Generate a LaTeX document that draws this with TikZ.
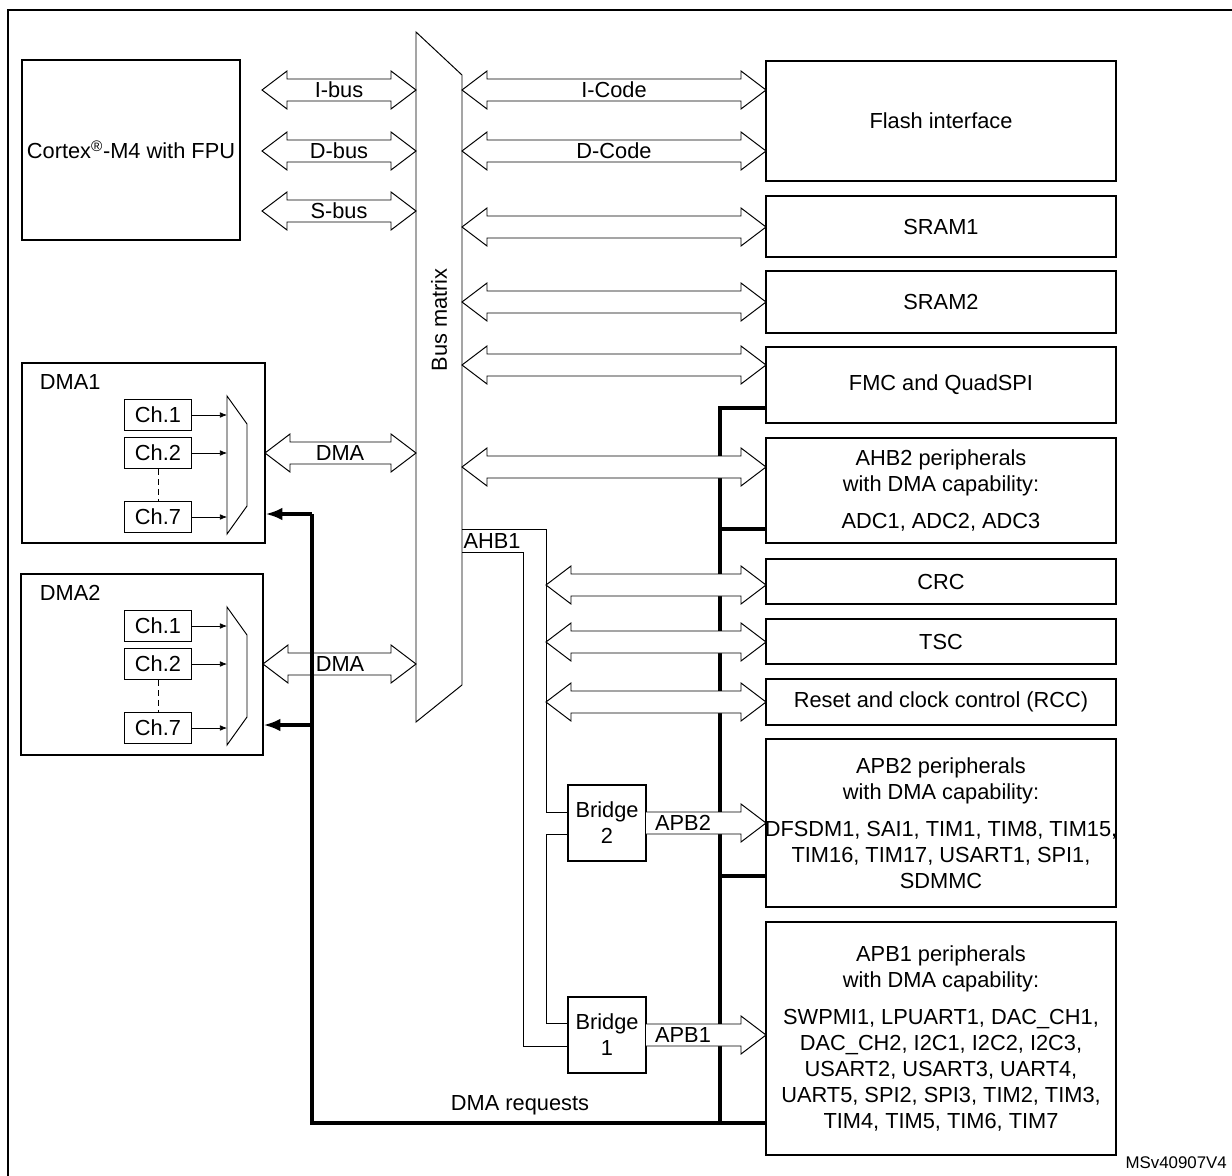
\documentclass[tikz,border=0pt]{standalone}
\usepackage{fontspec}
\setmainfont{Liberation Sans}
\usetikzlibrary{fit,arrows.meta}

% double headed bus arrow: x1, x2, y
\newcommand{\dblbus}[3]{%
  \draw[fill=white] (#1,#3) -- (#1+25,#3-19) -- (#1+25,#3-11) -- (#2-25,#3-11)
    -- (#2-25,#3-19) -- (#2,#3) -- (#2-25,#3+19) -- (#2-25,#3+11)
    -- (#1+25,#3+11) -- (#1+25,#3+19) -- cycle;}
% single headed bus arrow: x1, x2, y
\newcommand{\onebus}[3]{%
  \draw[fill=white] (#1,#3-11) -- (#2-25,#3-11) -- (#2-25,#3-19) -- (#2,#3)
    -- (#2-25,#3+19) -- (#2-25,#3+11) -- (#1,#3+11);}

\tikzset{
  blk/.style={draw, inner sep=0pt, line width=0.8pt},
  txt/.style={font=\fontsize{15.5}{18.5}\selectfont, align=center, inner sep=1pt},
  chan/.style={draw, line width=0.9pt, minimum width=1.68cm, minimum height=0.78cm, inner sep=0pt,
    font=\fontsize{15.5}{18}\selectfont},
  req/.style={line width=2.2pt},
}

\begin{document}
\begin{tikzpicture}[x=0.025cm,y=-0.025cm,line width=0.7pt]
\useasboundingbox (0,0) rectangle (1232,1176);
\draw[line width=1.4pt] (8,1190) -- (8,10) -- (1250,10);

% masters
\node[blk, fit={(22,60)(240,240)}] (cpu) {};
\node[txt] (cputxt) at (cpu.center) {Cortex\textsuperscript{\textregistered}-M4 with FPU};

\node[blk, fit={(22,363)(265,543)}] (dma1) {};
\node[txt, anchor=west] (dma1txt) at (38,382) {DMA1};
\node[blk, fit={(21,574)(263,755)}] (dma2) {};
\node[txt, anchor=west] (dma2txt) at (38,593) {DMA2};

\foreach \d/\y in {a/0,b/211}{
  \node[chan] (\d c1) at (158,415+\y) {Ch.1};
  \node[chan] (\d c2) at (158,453+\y) {Ch.2};
  \node[chan] (\d c7) at (158,517+\y) {Ch.7};
  \draw[dashed, dash pattern=on 4pt off 3pt] (\d c2.south) -- (\d c7.north);
  \draw (227,396+\y) -- (247,424+\y) -- (247,506+\y) -- (227,534+\y) -- cycle;
  \coordinate (\d m) at (227,465+\y);
  \foreach \c in {c1,c2,c7}
    \draw[-{Latex[length=5pt,width=4pt]}, line width=0.5pt] (\d\c.east) -- (\d m |- \d\c.east);
}

% bus matrix
\draw (416,32) -- (462,75) -- (462,685) -- (416,722) -- cycle;
\node[txt, rotate=90] (bm) at (439,320) {Bus matrix};

% slaves
\node[blk, fit={(766,61)(1116,181)}] (flash) {};
\node[txt] at (flash.center) {Flash interface};
\node[blk, fit={(766,196)(1116,257)}] (sram1) {};
\node[txt] at (sram1.center) {SRAM1};
\node[blk, fit={(766,271)(1116,333)}] (sram2) {};
\node[txt] at (sram2.center) {SRAM2};
\node[blk, fit={(766,347)(1116,423)}] (fmc) {};
\node[txt] at (fmc.center) {FMC and QuadSPI};
\node[blk, fit={(766,438)(1116,543)}] (ahb2) {};
\node[txt] at (ahb2.center) {AHB2 peripherals\\with DMA capability:\\[0.5em]ADC1, ADC2, ADC3};
\node[blk, fit={(766,559)(1116,604)}] (crc) {};
\node[txt] at (crc.center) {CRC};
\node[blk, fit={(766,619)(1116,664)}] (tsc) {};
\node[txt] at (tsc.center) {TSC};
\node[blk, fit={(766,679)(1116,725)}] (rcc) {};
\node[txt] at (rcc.center) {Reset and clock control (RCC)};
\node[blk, fit={(766,739)(1116,907)}] (apb2) {};
\node[txt] at (apb2.center) {APB2 peripherals\\with DMA capability:\\[0.5em]DFSDM1, SAI1, TIM1, TIM8, TIM15,\\TIM16, TIM17, USART1, SPI1,\\SDMMC};
\node[blk, fit={(766,922)(1116,1155)}] (apb1) {};
\node[txt] at (apb1.center) {APB1 peripherals\\with DMA capability:\\[0.5em]SWPMI1, LPUART1, DAC\_CH1,\\DAC\_CH2, I2C1, I2C2, I2C3,\\USART2, USART3, UART4,\\UART5, SPI2, SPI3, TIM2, TIM3,\\TIM4, TIM5, TIM6, TIM7};

% bridges
\node[blk, fit={(568,785)(646,861)}] (br2) {};
\node[txt] at (br2.center) {Bridge\\2};
\node[blk, fit={(568,997)(646,1073)}] (br1) {};
\node[txt] at (br1.center) {Bridge\\1};

% DMA request lines
\draw[req] (fmc.west |- 0,408) -- (720,408) -- (720,1123) -- (apb1.west |- 0,1123);
\draw[req] (720,529) -- (ahb2.west |- 0,529);
\draw[req] (720,876) -- (apb2.west |- 0,876);

% AHB1
\draw (462,529) -- (546,529) -- (546,812) -- (br2.west |- 0,812);
\draw (br2.west |- 0,834) -- (546,834) -- (546,1023) -- (br1.west |- 0,1023);
\draw (462,552) -- (523,552) -- (523,1046) -- (br1.west |- 0,1046);
\node[txt] (ahb1) at (492,541) {AHB1};

% buses
\dblbus{262}{416}{90}  \node[txt] at (339,90) {I-bus};
\dblbus{262}{416}{151} \node[txt] at (339,151) {D-bus};
\dblbus{262}{416}{211} \node[txt] at (339,211) {S-bus};
\dblbus{462}{766}{90}  \node[txt] at (614,90) {I-Code};
\dblbus{462}{766}{151} \node[txt] at (614,151) {D-Code};
\dblbus{462}{766}{227}
\dblbus{462}{766}{302}
\dblbus{462}{766}{365}
\dblbus{462}{766}{467}
\dblbus{546}{766}{585}
\dblbus{546}{766}{642}
\dblbus{546}{766}{702}
\onebus{646}{766}{823} \node[txt] at (683,823) {APB2};
\onebus{646}{766}{1035} \node[txt] at (683,1035) {APB1};
\dblbus{265}{416}{453} \node[txt] at (340,453) {DMA};
\dblbus{263}{416}{664} \node[txt] at (340,664) {DMA};

% requests to DMA controllers
\draw[req] (720,1123) -- (312,1123) -- (312,514);
\draw[req, -{Latex[length=12pt,width=9pt]}] (312,514) -- (dma1.east |- 0,514);
\draw[req, -{Latex[length=12pt,width=9pt]}] (312,725) -- (dma2.east |- 0,725);
\node[txt] (reqtxt) at (520,1105) {DMA requests};

\node[font=\fontsize{12}{14}\selectfont, anchor=east] (ref) at (1232,1163) {MSv40907V4};
\end{tikzpicture}
\end{document}
